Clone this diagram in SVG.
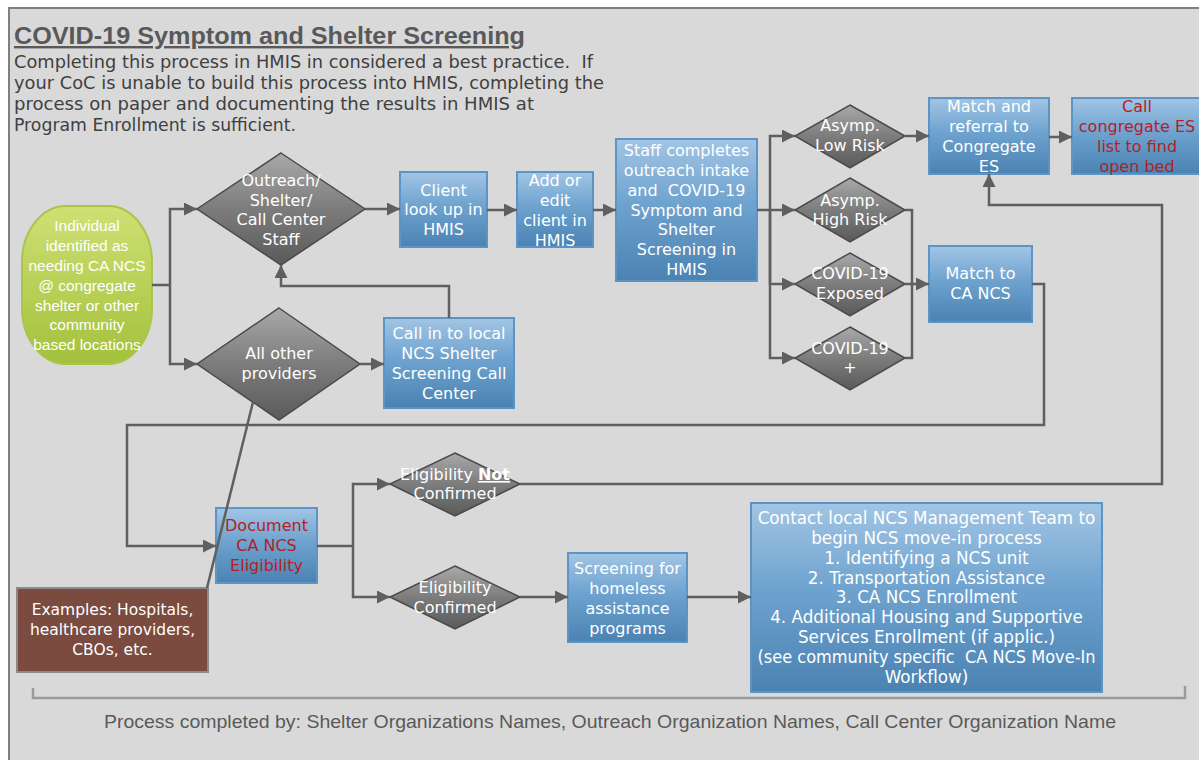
<svg xmlns="http://www.w3.org/2000/svg" width="1199" height="760" viewBox="0 0 1199 760">
<defs>
<linearGradient id="gBlue" x1="0" y1="0" x2="0" y2="1">
<stop offset="0" stop-color="#a2c5e4"/>
<stop offset="0.45" stop-color="#6fa3cf"/>
<stop offset="1" stop-color="#4a82b2"/>
</linearGradient>
<linearGradient id="gGray" x1="0" y1="0" x2="0" y2="1">
<stop offset="0" stop-color="#a9a9a9"/>
<stop offset="0.5" stop-color="#7c7c7c"/>
<stop offset="1" stop-color="#5a5a5a"/>
</linearGradient>
<linearGradient id="gGreen" x1="0" y1="0" x2="0" y2="1">
<stop offset="0" stop-color="#cfe074"/>
<stop offset="1" stop-color="#a3c13c"/>
</linearGradient>
<marker id="arr" markerUnits="userSpaceOnUse" markerWidth="14" markerHeight="14" refX="13" refY="6.5" orient="auto">
<path d="M0,0 L13,6.5 L0,13 z" fill="#5f5f5f"/>
</marker>
</defs>
<style>
.box{fill:url(#gBlue);stroke:#5b95c8;stroke-width:2}
.dia{fill:url(#gGray);stroke:#4a4a4a;stroke-width:1.5}
.t{font-family:"DejaVu Sans",sans-serif;font-size:16px;fill:#ffffff;text-anchor:middle}
.big{font-size:16.8px}
.red{fill:#b52025}
.ln{fill:none;stroke:#5f5f5f;stroke-width:2.5}
.arw{fill:none;stroke:#5f5f5f;stroke-width:2.5;marker-end:url(#arr)}
</style>
<rect x="0" y="0" width="1199" height="760" fill="#ffffff"/>
<rect x="9" y="8" width="1200" height="770" fill="#d9d9d9" stroke="#7f7f7f" stroke-width="2"/>

<g id="header">
<text x="14" y="44" font-family="Liberation Sans, sans-serif" font-weight="bold" font-size="24" fill="#595959" text-decoration="underline" textLength="511" lengthAdjust="spacingAndGlyphs">COVID-19 Symptom and Shelter Screening</text>
<g font-family="DejaVu Sans, sans-serif" font-size="17" fill="#404040">
<text x="14" y="68" textLength="579" lengthAdjust="spacingAndGlyphs" xml:space="preserve">Completing this process in HMIS in considered a best practice.  If</text>
<text x="14" y="89" textLength="590" lengthAdjust="spacingAndGlyphs">your CoC is unable to build this process into HMIS, completing the</text>
<text x="14" y="110" textLength="520" lengthAdjust="spacingAndGlyphs">process on paper and documenting the results in HMIS at</text>
<text x="14" y="131" textLength="282" lengthAdjust="spacingAndGlyphs">Program Enrollment is sufficient.</text>
</g>
</g>

<g id="bracket">
<path d="M33,688 V698 H1185 V686" fill="none" stroke="#9a9a9a" stroke-width="2.5"/>
<text x="104" y="728" font-family="Liberation Sans Narrow, Liberation Sans, sans-serif" font-size="19" fill="#595959" textLength="1012" lengthAdjust="spacingAndGlyphs">Process completed by: Shelter Organizations Names, Outreach Organization Names, Call Center Organization Name</text>
</g>

<g id="n-individual">
<rect x="22" y="206" width="130" height="158" rx="44" ry="56" fill="url(#gGreen)" stroke="#a9c54a" stroke-width="2"/>
<g font-family="Liberation Sans, sans-serif" font-size="15.5" fill="#ffffff" text-anchor="middle">
<text x="87" y="231">Individual</text>
<text x="87" y="251">identified as</text>
<text x="87" y="271">needing CA NCS</text>
<text x="87" y="291">@ congregate</text>
<text x="87" y="311">shelter or other</text>
<text x="87" y="330">community</text>
<text x="87" y="350">based locations</text>
</g>
</g>

<g id="n-outreach">
<polygon class="dia" points="281,153 365,209 281,265 197,209"/>
<text class="t" x="281" y="186">Outreach/</text>
<text class="t" x="281" y="206">Shelter/</text>
<text class="t" x="281" y="225">Call Center</text>
<text class="t" x="281" y="245">Staff</text>
</g>

<g id="n-allother">
<polygon class="dia" points="279,308 360,364 279,420 197,364"/>
<text class="t" x="279" y="359">All other</text>
<text class="t" x="279" y="379">providers</text>
</g>

<g id="n-client">
<rect class="box" x="400" y="172" width="87" height="75"/>
<text class="t" x="443.5" y="196">Client</text>
<text class="t" x="443.5" y="215">look up in</text>
<text class="t" x="443.5" y="235">HMIS</text>
</g>

<g id="n-addedit">
<rect class="box" x="517" y="172" width="76" height="75"/>
<text class="t" x="555" y="186">Add or</text>
<text class="t" x="555" y="206">edit</text>
<text class="t" x="555" y="226">client in</text>
<text class="t" x="555" y="246">HMIS</text>
</g>

<g id="n-staff">
<rect class="box" x="616" y="139" width="141" height="142"/>
<text class="t" x="686.5" y="156">Staff completes</text>
<text class="t" x="686.5" y="176">outreach intake</text>
<text class="t" x="686.5" y="196" xml:space="preserve">and  COVID-19</text>
<text class="t" x="686.5" y="216">Symptom and</text>
<text class="t" x="686.5" y="235">Shelter</text>
<text class="t" x="686.5" y="255">Screening in</text>
<text class="t" x="686.5" y="275">HMIS</text>
</g>

<g id="n-callin">
<rect class="box" x="384" y="318" width="130" height="90"/>
<text class="t" x="449" y="339">Call in to local</text>
<text class="t" x="449" y="359">NCS Shelter</text>
<text class="t" x="449" y="379">Screening Call</text>
<text class="t" x="449" y="399">Center</text>
</g>

<g id="n-lowrisk">
<polygon class="dia" points="850,105 905,136 850,168 795,136"/>
<text class="t" x="850" y="131">Asymp.</text>
<text class="t" x="850" y="151">Low Risk</text>
</g>

<g id="n-highrisk">
<polygon class="dia" points="850,178 905,210 850,242 795,210"/>
<text class="t" x="850" y="206">Asymp.</text>
<text class="t" x="850" y="225">High Risk</text>
</g>

<g id="n-exposed">
<polygon class="dia" points="850,253 905,284 850,316 795,284"/>
<text class="t" x="850" y="279">COVID-19</text>
<text class="t" x="850" y="299">Exposed</text>
</g>

<g id="n-positive">
<polygon class="dia" points="850,327 905,358 850,390 795,358"/>
<text class="t" x="850" y="354">COVID-19</text>
<text class="t" x="850" y="373">+</text>
</g>

<g id="n-matchref">
<rect class="box" x="929" y="98" width="120" height="76"/>
<text class="t" x="989" y="112">Match and</text>
<text class="t" x="989" y="132">referral to</text>
<text class="t" x="989" y="152">Congregate</text>
<text class="t" x="989" y="172">ES</text>
</g>

<g id="n-callES">
<rect class="box" x="1072" y="98" width="132" height="76"/>
<text class="t red" x="1137" y="112">Call</text>
<text class="t red" x="1137" y="132">congregate ES</text>
<text class="t red" x="1137" y="152">list to find</text>
<text class="t red" x="1137" y="172">open bed</text>
</g>

<g id="n-matchncs">
<rect class="box" x="929" y="246" width="103" height="76"/>
<text class="t" x="980.5" y="279">Match to</text>
<text class="t" x="980.5" y="299">CA NCS</text>
</g>

<g id="n-document">
<rect class="box" x="216" y="508" width="101" height="75"/>
<text class="t red" x="266.5" y="531">Document</text>
<text class="t red" x="266.5" y="551">CA NCS</text>
<text class="t red" x="266.5" y="571">Eligibility</text>
</g>

<g id="n-notconfirmed">
<polygon class="dia" points="455,453 520,484 455,516 390,484"/>
<text class="t" x="455" y="480">Eligibility <tspan font-weight="bold" text-decoration="underline">Not</tspan></text>
<text class="t" x="455" y="499">Confirmed</text>
</g>

<g id="n-confirmed">
<polygon class="dia" points="455,566 520,597 455,629 390,597"/>
<text class="t" x="455" y="593">Eligibility</text>
<text class="t" x="455" y="613">Confirmed</text>
</g>

<g id="n-screening">
<rect class="box" x="568" y="553" width="119" height="89"/>
<text class="t" x="627.5" y="574">Screening for</text>
<text class="t" x="627.5" y="594">homeless</text>
<text class="t" x="627.5" y="614">assistance</text>
<text class="t" x="627.5" y="634">programs</text>
</g>

<g id="n-contact">
<rect class="box" x="751" y="503" width="351" height="189"/>
<text class="t big" x="926.5" y="524">Contact local NCS Management Team to</text>
<text class="t big" x="926.5" y="544">begin NCS move-in process</text>
<text class="t big" x="926.5" y="564">1. Identifying a NCS unit</text>
<text class="t big" x="926.5" y="584">2. Transportation Assistance</text>
<text class="t big" x="926.5" y="603">3. CA NCS Enrollment</text>
<text class="t big" x="926.5" y="623">4. Additional Housing and Supportive</text>
<text class="t big" x="926.5" y="643">Services Enrollment (if applic.)</text>
<text class="t big" x="926.5" y="663" xml:space="preserve" textLength="338" lengthAdjust="spacingAndGlyphs">(see community specific  CA NCS Move-In</text>
<text class="t big" x="926.5" y="683">Workflow)</text>
</g>

<g id="n-examples">
<rect x="17" y="588" width="191" height="84" fill="#7a4b3e" stroke="#8a8a8a" stroke-width="2"/>
<g font-family="DejaVu Sans, sans-serif" font-size="15.5" fill="#ffffff" text-anchor="middle">
<text x="112.5" y="615">Examples: Hospitals,</text>
<text x="112.5" y="635">healthcare providers,</text>
<text x="112.5" y="655">CBOs, etc.</text>
</g>
</g>

<g id="connectors">
<path class="ln" d="M152,285 H170"/>
<path class="arw" d="M170,285 V209 H197"/>
<path class="arw" d="M170,285 V364 H197"/>
<path class="arw" d="M365,209 H400"/>
<path class="arw" d="M487,210 H517"/>
<path class="arw" d="M593,210 H616"/>
<path class="ln" d="M757,210 H770"/>
<path class="arw" d="M770,210 V136 H795"/>
<path class="arw" d="M770,210 H795"/>
<path class="arw" d="M770,210 V284 H795"/>
<path class="arw" d="M770,210 V358 H795"/>
<path class="arw" d="M905,136 H929"/>
<path class="ln" d="M905,210 H912 V358 H905"/>
<path class="arw" d="M905,284 H929"/>
<path class="arw" d="M1049,137 H1072"/>
<path class="arw" d="M1032,284 H1044 V425 H127 V546 H216"/>
<path class="arw" d="M520,484 H1162 V205 H989 V174"/>
<path class="arw" d="M360,364 H384"/>
<path class="arw" d="M449,318 V286 H281 V265"/>
<path class="ln" d="M317,546 H353"/>
<path class="arw" d="M353,546 V484 H390"/>
<path class="arw" d="M353,546 V597 H390"/>
<path class="arw" d="M520,597 H568"/>
<path class="arw" d="M687,597 H751"/>
<path class="ln" d="M253,402 L207,588"/>
</g>
</svg>
